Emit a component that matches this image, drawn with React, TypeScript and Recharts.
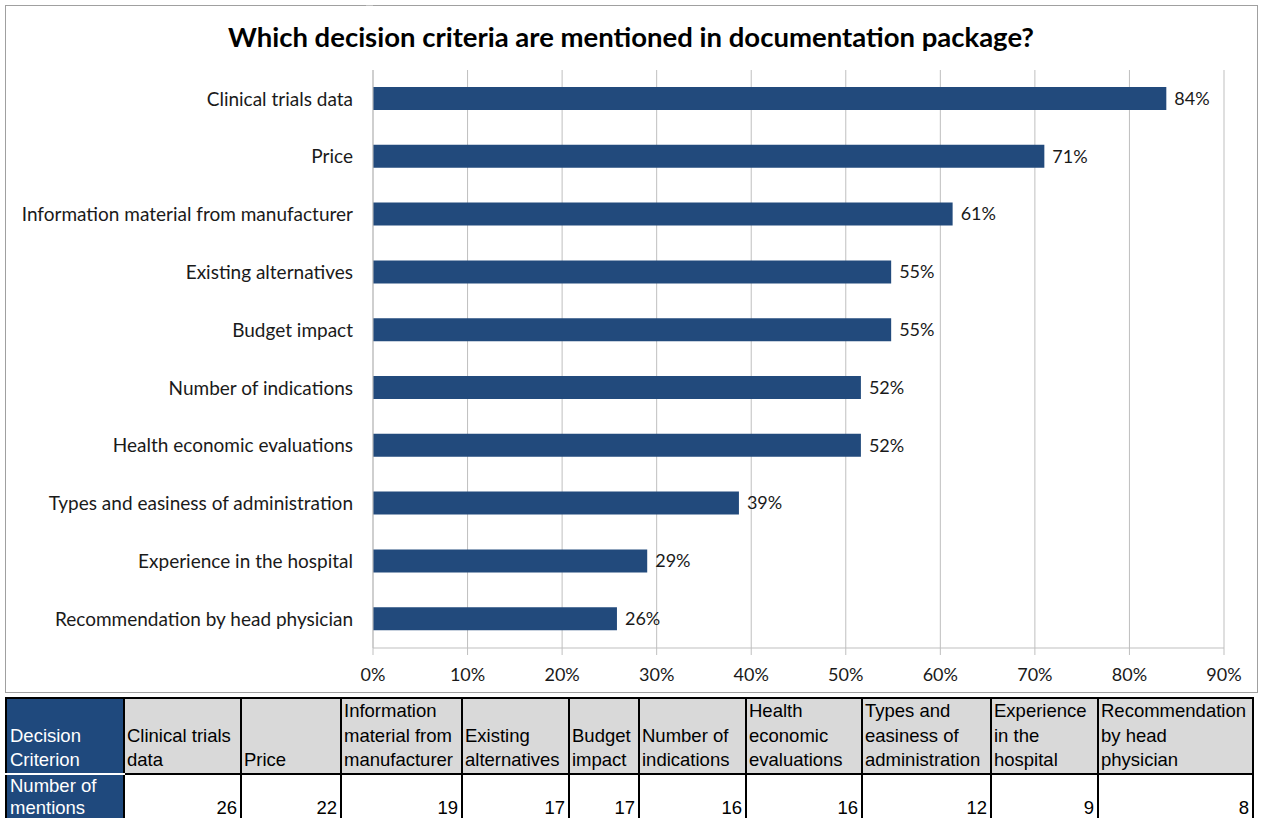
import React from 'react';
import { BarChart, Bar, XAxis, YAxis, CartesianGrid, LabelList, useOffset } from 'recharts';

const categories = [
  'Clinical trials data',
  'Price',
  'Information material from manufacturer',
  'Existing alternatives',
  'Budget impact',
  'Number of indications',
  'Health economic evaluations',
  'Types and easiness of administration',
  'Experience in the hospital',
  'Recommendation by head physician',
];
const shares = [83.9, 71.0, 61.3, 54.8, 54.8, 51.6, 51.6, 38.7, 29.0, 25.8];
const shareLabels = ['84%', '71%', '61%', '55%', '55%', '52%', '52%', '39%', '29%', '26%'];
const xTicks = [0, 10, 20, 30, 40, 50, 60, 70, 80, 90];

const tableHeaderFirst = ['Decision', 'Criterion'];
const tableRowFirst = ['Number of', 'mentions'];
const tableHeaders = [
  ['Clinical trials', 'data'],
  ['Price'],
  ['Information', 'material from', 'manufacturer'],
  ['Existing', 'alternatives'],
  ['Budget', 'impact'],
  ['Number of', 'indications'],
  ['Health', 'economic', 'evaluations'],
  ['Types and', 'easiness of', 'administration'],
  ['Experience', 'in the', 'hospital'],
  ['Recommendation', 'by head', 'physician'],
];
const mentions = [26, 22, 19, 17, 17, 16, 16, 12, 9, 8];
const colWidths = [118, 117, 100, 121, 107, 70, 107, 116, 129, 107, 155];

const data = categories.map((c, i) => ({ name: c, share: shares[i], label: shareLabels[i] }));

const LABEL_FONT = 'Lato, "Open Sans", sans-serif';
const GRID = '#BFBFBF';
const TEXT = '#1a1a1a';

function BoundaryTicks() {
  const off: any = useOffset();
  if (!off) return null;
  const n = categories.length;
  const lines = [];
  for (let i = 0; i <= n; i++) {
    const y = off.top + (i * off.height) / n;
    lines.push(<line key={i} x1={off.left - 7} x2={off.left} y1={y} y2={y} stroke={GRID} strokeWidth={1} />);
  }
  return <g>{lines}</g>;
}

export default function App() {
  return (
    <div style={{ position: 'absolute', left: 0, top: 0, width: 1262, height: 818, overflow: 'hidden', background: '#fff' }}>
      <div style={{ position: 'absolute', left: 5, top: 5, width: 1251, height: 686, border: '1px solid #A0A0A0', boxSizing: 'content-box' }} />
      <div
        style={{
          position: 'absolute', left: 5, top: 20, width: 1252, textAlign: 'center',
          fontFamily: LABEL_FONT, fontWeight: 700, fontSize: 27.5, lineHeight: '34px', color: '#000',
        }}
      >
        Which decision criteria are mentioned in documentation package?
      </div>
      <div style={{ position: 'absolute', left: 5, top: 5 }}>
        <BarChart
          width={1252}
          height={687}
          data={data}
          layout="vertical"
          margin={{ top: 65, right: 33, bottom: 14, left: 0 }}
          barCategoryGap={0}
        >
          <CartesianGrid horizontal={false} stroke={GRID} />
          <XAxis
            type="number"
            domain={[0, 90]}
            ticks={xTicks}
            tickFormatter={(v) => v + '%'}
            stroke={GRID}
            tickSize={7}
            tickMargin={13}
            tick={{ fill: TEXT, fontSize: 18, fontFamily: LABEL_FONT }}
            interval={0}
            height={30}
          />
          <YAxis
            type="category"
            dataKey="name"
            width={368}
            stroke={GRID}
            tickLine={false}
            tickSize={0}
            tickMargin={20}
            tick={{ fill: TEXT, fontSize: 19, fontFamily: LABEL_FONT }}
            interval={0}
          />
          <Bar dataKey="share" fill="#224A7C" barSize={23} isAnimationActive={false}>
            <LabelList dataKey="label" position="right" offset={8} fill={TEXT} fontSize={18} fontFamily={LABEL_FONT} />
          </Bar>
          <BoundaryTicks />
        </BarChart>
      </div>
      <table
        style={{
          position: 'absolute', left: 5, top: 697, width: 1247, borderCollapse: 'collapse', tableLayout: 'fixed',
          fontFamily: '"Liberation Sans", Arial, sans-serif', fontSize: 18.5, lineHeight: '24.5px',
        }}
      >
        <colgroup>
          {colWidths.map((w, i) => (
            <col key={i} style={{ width: w }} />
          ))}
        </colgroup>
        <tbody>
          <tr style={{ height: 74 }}>
            <td style={{ background: '#1F497D', color: '#fff', verticalAlign: 'bottom', padding: '0 3px 0', border: '2px solid #000', borderBottom: '2px solid #fff' }}>
              {tableHeaderFirst.map((t, i) => (<div key={i}>{t}</div>))}
            </td>
            {tableHeaders.map((h, i) => (
              <td key={i} style={{ background: '#D9D9D9', color: '#000', verticalAlign: 'bottom', padding: '0 2px 0', border: '2px solid #000', whiteSpace: 'nowrap', overflow: 'hidden' }}>
                {h.map((t, j) => (<div key={j}>{t}</div>))}
              </td>
            ))}
          </tr>
          <tr style={{ height: 44, lineHeight: '22px' }}>
            <td style={{ background: '#1F497D', color: '#fff', verticalAlign: 'top', padding: '0 3px', border: '2px solid #000', borderTop: '2px solid #fff' }}>
              {tableRowFirst.map((t, i) => (<div key={i}>{t}</div>))}
            </td>
            {mentions.map((m, i) => (
              <td key={i} style={{ background: '#fff', color: '#000', verticalAlign: 'top', textAlign: 'right', padding: '22px 3px 0', border: '2px solid #000' }}>
                {m}
              </td>
            ))}
          </tr>
        </tbody>
      </table>
    </div>
  );
}
